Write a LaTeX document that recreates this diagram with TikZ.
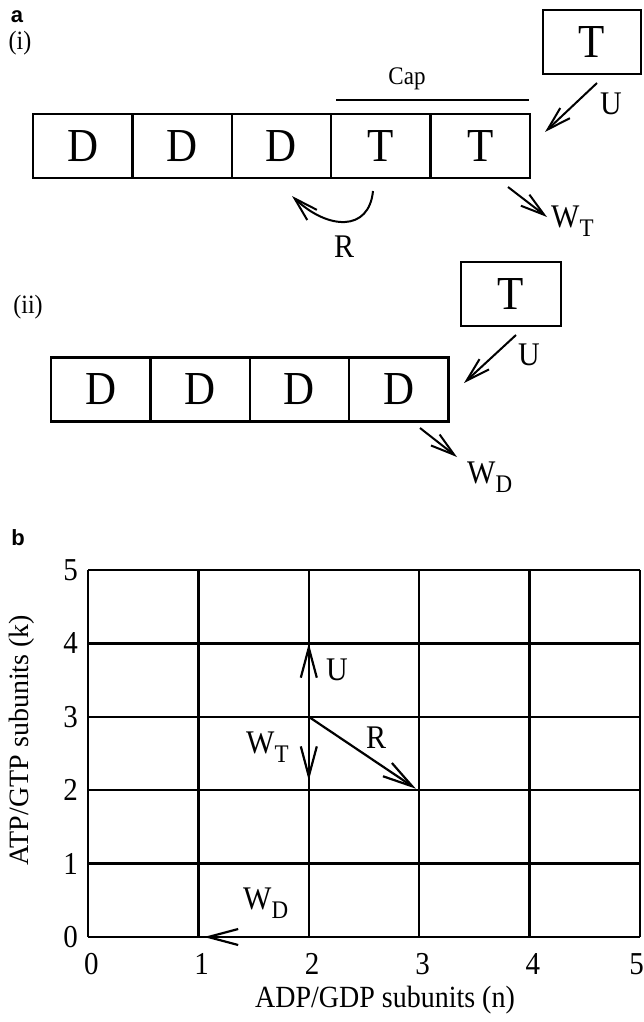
\documentclass[tikz,border=0pt]{standalone}
\usepackage{fontspec}
\setmainfont{Liberation Serif}
\newfontfamily\hvb{Liberation Sans}
\usetikzlibrary{arrows.meta}
\newcommand\st[1]{\scalebox{1}[1.1]{#1}}
\newcommand\fs[1]{\fontsize{#1}{#1}\selectfont}
\newcommand\sbs[1]{\raisebox{-0.3em}{\fs{23}#1}}
\begin{document}
\begin{tikzpicture}[x=1pt,y=-1pt,
  cell/.style={draw, line width=2.5pt, minimum width=99.4pt, minimum height=64pt, inner sep=0pt, font=\fs{43}},
  lab/.style={font=\fs{30}, inner sep=0pt},
  arr/.style={line width=2pt, -{Straight Barb[length=24pt,width=14pt]}},
  garr/.style={line width=2.2pt, -{Straight Barb[length=30pt,width=16pt]}},
  gridline/.style={line width=2.4pt},
  tick/.style={font=\fs{29}, inner sep=0pt},
  panel/.style={font=\hvb\bfseries\fs{22}, inner sep=0pt},
  roman/.style={font=\fs{24}, inner sep=0pt},
]
\useasboundingbox (0,0) rectangle (643,1022);

% ---------- panel a (i)
\node[panel] (pa) at (17,17) {a};
\node[roman] (ri) at (20,43) {\st{(i)}};

\node[cell] (c1) at (82.7,146) {\st{D}};
\node[cell] (c2) at (182.1,146) {\st{D}};
\node[cell] (c3) at (281.5,146) {\st{D}};
\node[cell] (c4) at (380.9,146) {\st{T}};
\node[cell] (c5) at (480.3,146) {\st{T}};
\node[cell, minimum width=98pt] (tA) at (592,42) {\st{T}};

\node[font=\fs{23}, inner sep=0pt] (cap) at (407,79) {\st{Cap}};
\coordinate (capL) at (336,100);
\coordinate (capR) at (529,100);
\draw[line width=2.2pt] (capL) -- (capR);

\coordinate (uAs) at (597,83);
\coordinate (uAe) at (545,132);
\draw[arr] (uAs) -- (uAe);
\node[lab] (luA) at (611,104) {\st{U}};

\coordinate (wTs) at (508,187);
\coordinate (wTe) at (547,217);
\draw[arr] (wTs) -- (wTe);
\node[lab, anchor=base west] (lwT) at (551,227) {\st{W\sbs{T}}};

\coordinate (rs) at (373,191);
\coordinate (re) at (292,196);
\draw[arr] (rs) .. controls (369,232) and (328,230) .. (re);
\node[lab] (lR) at (344,247) {\st{R}};

% ---------- panel a (ii)
\node[roman] (rii) at (28,307) {\st{(ii)}};
\node[cell] (d1) at (100.7,389.5) {\st{D}};
\node[cell] (d2) at (200.1,389.5) {\st{D}};
\node[cell] (d3) at (299.5,389.5) {\st{D}};
\node[cell] (d4) at (398.9,389.5) {\st{D}};
\node[cell, minimum width=100pt] (tB) at (511,294) {\st{T}};

\coordinate (uBs) at (516,335);
\coordinate (uBe) at (464,383);
\draw[arr] (uBs) -- (uBe);
\node[lab] (luB) at (529,355) {\st{U}};

\coordinate (wDs) at (420,428);
\coordinate (wDe) at (457,457);
\draw[arr] (wDs) -- (wDe);
\node[lab, anchor=base west] (lwD) at (467,483) {\st{W\sbs{D}}};

% ---------- panel b
\node[panel] (pb) at (18,538) {b};
\begin{scope}[shift={(88,937)}, x=110.4pt, y=73.4pt]
  \foreach \i in {0,...,5} {
    \draw[gridline] (\i,0) -- (\i,5);
    \draw[gridline] (0,\i) -- (5,\i);
  }
  \foreach \k in {0,...,5}
    \node[tick, anchor=east] (yk\k) at (-0.09,\k) {\st{\k}};
  \foreach \n in {0,...,4}
    \node[tick] (xn\n) at (\n+0.03,-0.37) {\st{\n}};
  \node[tick] (xn5) at (4.97,-0.37) {\st{5}};
  \coordinate (p23) at (2,3);
  \coordinate (p24) at (2,4);
  \coordinate (p22) at (2,2.13);
  \coordinate (p32) at (2.97,2.02);
  \coordinate (p20) at (2,0);
  \coordinate (p10) at (1.05,0);
  \draw[garr] (p23) -- (p24);
  \draw[garr] (p23) -- (p22);
  \draw[garr] (p23) -- (p32);
  \draw[garr] (p20) -- (p10);
\end{scope}
\node[lab] (gU) at (337,670) {\st{U}};
\node[lab] (gR) at (376,738) {\st{R}};
\node[lab, anchor=base west] (gWT) at (246,753) {\st{W\sbs{T}}};
\node[lab, anchor=base west] (gWD) at (243,909) {\st{W\sbs{D}}};

\node[font=\fs{28}, inner sep=0pt] (xl) at (385,1000) {\st{ADP/GDP subunits (n)}};
\node[font=\fs{28}, inner sep=0pt, rotate=90] (yl) at (22,740) {ATP/GTP subunits (k)};
\end{tikzpicture}
\end{document}
